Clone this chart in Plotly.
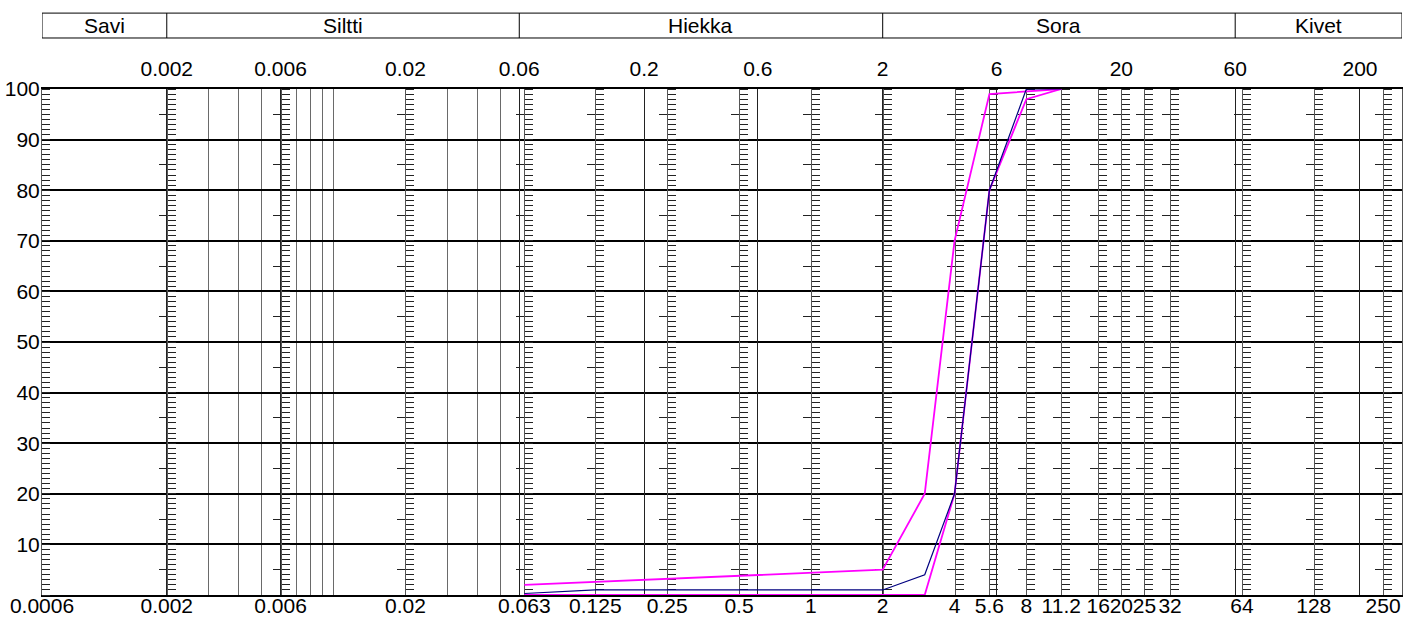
import math
import plotly.graph_objects as go

# ---- data ----
sizes = [0.063, 0.125, 0.25, 0.5, 1, 2, 3, 4, 5.6, 8, 11.2]
upper_limit = [2.0, 2.6, 3.2, 3.8, 4.4, 5.0, 20, 70, 99, 99.5, 100]
lower_limit = [0, 0, 0, 0, 0, 0, 0, 20, 80, 98, 100]
sample = [0.3, 1, 1, 1, 1, 1, 4, 20, 80, 100, 100]

bottom_ticks = [0.0006, 0.002, 0.006, 0.02, 0.063, 0.125, 0.25, 0.5, 1, 2, 4,
                5.6, 8, 11.2, 16, 20, 25, 32, 64, 128, 250]
bottom_labels = ["0.0006", "0.002", "0.006", "0.02", "0.063", "0.125", "0.25",
                 "0.5", "1", "2", "4", "5.6", "8", "11.2", "16", "20", "25",
                 "32", "64", "128", "250"]
top_ticks = [0.002, 0.006, 0.02, 0.06, 0.2, 0.6, 2, 6, 20, 60, 200]
top_labels = ["0.002", "0.006", "0.02", "0.06", "0.2", "0.6", "2", "6", "20",
              "60", "200"]
minor_grid = [0.003, 0.004, 0.005, 0.007, 0.008, 0.009, 0.01, 0.03, 0.04, 0.05]
y_ticks = [10, 20, 30, 40, 50, 60, 70, 80, 90, 100]
y_half_ticks = [5, 15, 25, 35, 45, 55, 65, 75, 85, 95]
classes = ["Savi", "Siltti", "Hiekka", "Sora", "Kivet"]
class_bounds = [0.0006, 0.002, 0.06, 2, 60, 300]

X_MIN, X_MAX = 0.0006, 300
FONT = "Liberation Sans, Arial, sans-serif"
FS = 21

lo, hi = math.log10(X_MIN), math.log10(X_MAX)

fig = go.Figure()

# invisible helper point so the top axis is drawn
fig.add_trace(go.Scatter(x=[1], y=[50], xaxis="x2", yaxis="y", mode="markers",
                         marker=dict(opacity=0), hoverinfo="skip",
                         showlegend=False))

layout = dict(
    width=1404, height=617,
    margin=dict(l=42, r=2, t=89, b=22, autoexpand=False),
    paper_bgcolor="white", plot_bgcolor="white",
    font=dict(family=FONT, size=FS, color="black"),
    xaxis=dict(type="log", range=[lo, hi], tickmode="array",
               tickvals=bottom_ticks, ticktext=bottom_labels, tickangle=0,
               ticks="", showgrid=False, zeroline=False, automargin=False,
               showline=True, linecolor="black", linewidth=2, mirror=True,
               tickfont=dict(size=FS), ticklabelstandoff=-9),
    xaxis2=dict(type="log", range=[lo, hi], overlaying="x", side="top",
                anchor="y", tickmode="array", tickvals=top_ticks,
                ticktext=top_labels, tickangle=0, ticks="", automargin=False,
                showgrid=True, gridcolor="#222222", gridwidth=1.3,
                minor=dict(tickmode="array", tickvals=minor_grid,
                           showgrid=True, gridcolor="#6a6a6a", gridwidth=1,
                           ticks=""),
                zeroline=False, showline=False, ticklabelstandoff=8,
                tickfont=dict(size=FS)),
    yaxis=dict(range=[0, 100], tickmode="array", tickvals=y_ticks,
               ticks="", showgrid=True, gridcolor="black", gridwidth=2,
               zeroline=False, showline=True, linecolor="#555555",
               linewidth=1, mirror=True, automargin=False,
               minor=dict(ticks="inside", tickmode="linear", tick0=0, dtick=1,
                          ticklen=8, tickcolor="#222222", tickwidth=1,
                          showgrid=False),
               tickfont=dict(size=FS), ticklabelstandoff=-3),
)

# tick columns at every sieve size
for i, v in enumerate(bottom_ticks[1:]):
    k = i + 2
    pos = (math.log10(v) - lo) / (hi - lo)
    layout[f"yaxis{k}"] = dict(
        overlaying="y", anchor="free", position=pos, side="left",
        range=[0, 100], type="linear", showgrid=False, zeroline=False,
        showline=True, linecolor="#555555", linewidth=1, automargin=False,
        showticklabels=False, ticks="outside", tickmode="array",
        tickvals=y_half_ticks, ticklen=8, tickcolor="#222222", tickwidth=1,
        minor=dict(ticks="inside", tickmode="linear", tick0=0, dtick=1,
                   ticklen=8, tickcolor="#222222", tickwidth=1, showgrid=False),
        layer="below traces", fixedrange=True,
    )
    fig.add_trace(go.Scatter(x=[1], y=[50], xaxis="x", yaxis=f"y{k}",
                             mode="markers", marker=dict(opacity=0),
                             hoverinfo="skip", showlegend=False))

# data curves
fig.add_trace(go.Scatter(x=sizes, y=upper_limit, mode="lines",
                         line=dict(color="#FF00FF", width=1.8), showlegend=False))
fig.add_trace(go.Scatter(x=sizes, y=lower_limit, mode="lines",
                         line=dict(color="#FF00FF", width=1.8), showlegend=False))
fig.add_trace(go.Scatter(x=sizes, y=sample, mode="lines",
                         line=dict(color="#000080", width=1.2), showlegend=False))

fig.update_layout(**layout)

# header with soil classes
Y0, Y1 = 1.1008, 1.150
fig.add_shape(type="rect", xref="x", yref="paper", x0=class_bounds[0],
              x1=class_bounds[-1], y0=Y0, y1=Y1,
              line=dict(color="black", width=1))
for b in class_bounds[1:-1]:
    fig.add_shape(type="line", xref="x", yref="paper", x0=b, x1=b, y0=Y0,
                  y1=Y1, line=dict(color="black", width=1))
for name, a, b in zip(classes, class_bounds[:-1], class_bounds[1:]):
    fig.add_annotation(x=(math.log10(a) + math.log10(b)) / 2, xref="x",
                       y=(Y0 + Y1) / 2, yref="paper", text=name,
                       showarrow=False, font=dict(size=FS, family=FONT),
                       yanchor="middle")

fig.write_html(
    "out.html",
    config={"displayModeBar": False},
    post_script="document.body.style.margin='0';"
                "document.body.style.overflow='hidden';",
)
